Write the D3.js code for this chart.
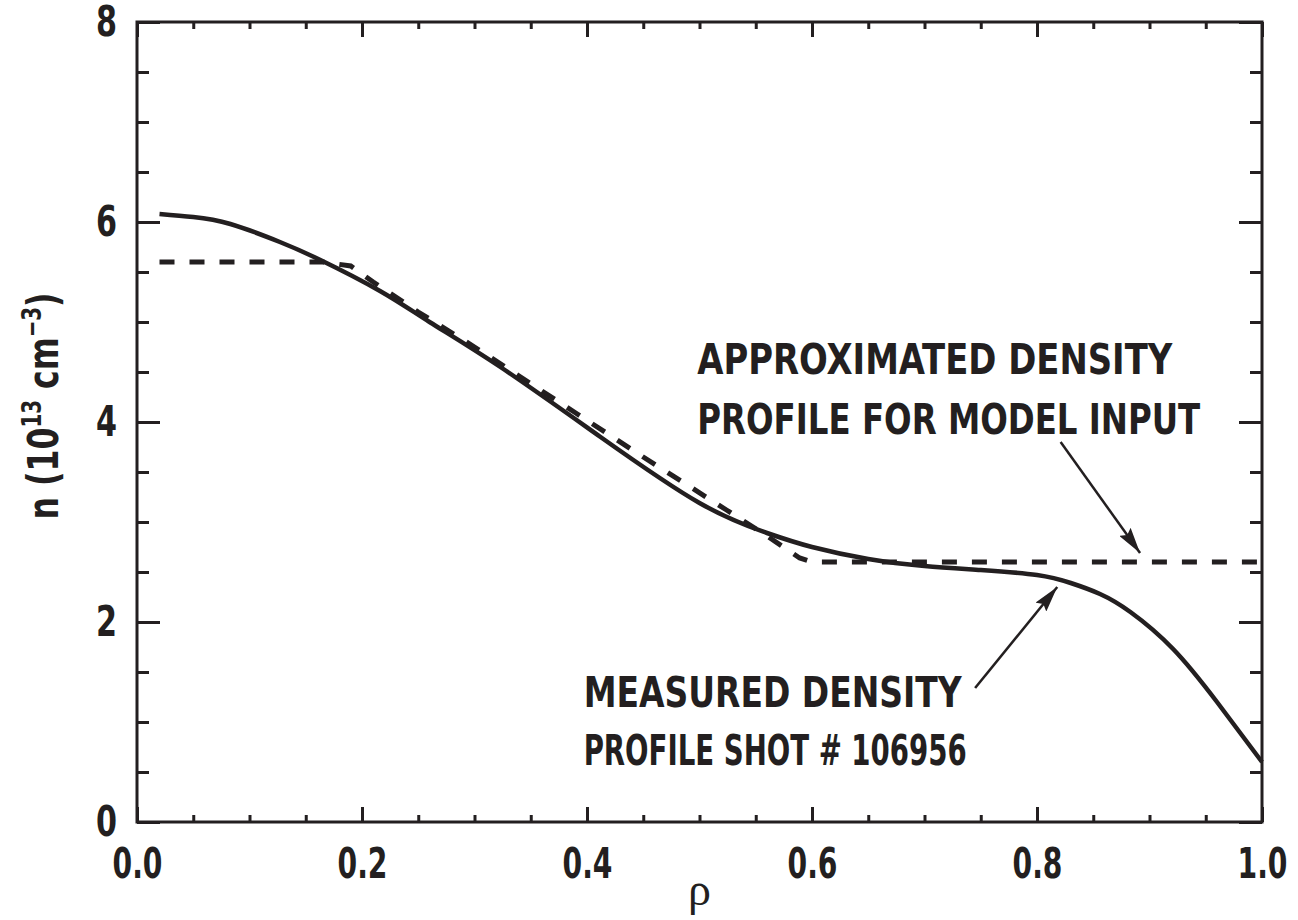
<!DOCTYPE html>
<meta charset="utf-8">
<head>
	<style type="text/css">
		body { margin: 0; background: #fff; }
		.lbl { font-family: "Liberation Sans Narrow", "DejaVu Sans Condensed", "Arial Narrow", sans-serif; font-weight: bold; fill: #231f20; }
		.tick line { stroke: #231f20; stroke-width: 3; }
	</style>
	<title>Density profile</title>
</head>

<script src="https://cdn.jsdelivr.net/npm/d3@7"></script>

<svg width="1298" height="920" id="svg1"></svg>

<script>
	// measured density profile (solid)
	const rhoMeasured = [0.02, 0.05, 0.083, 0.127, 0.163, 0.216, 0.26, 0.323, 0.412, 0.5, 0.56, 0.6, 0.65, 0.7, 0.75, 0.8, 0.83, 0.856, 0.883, 0.921, 0.96, 1.0];
	const nMeasured   = [6.08, 6.05, 5.98, 5.80, 5.62, 5.31, 5.0, 4.55, 3.85, 3.19, 2.89, 2.75, 2.63, 2.56, 2.52, 2.47, 2.39, 2.28, 2.10, 1.73, 1.20, 0.60];

	// approximated profile (dashed)
	const rhoApprox = [0.02, 0.165, 0.19, 0.21, 0.25, 0.3, 0.39, 0.45, 0.524, 0.56, 0.589, 0.6, 1.0];
	const nApprox   = [5.6, 5.6, 5.56, 5.40, 5.10, 4.75, 4.09, 3.65, 3.12, 2.86, 2.64, 2.6, 2.6];

	const xMajor = [0, 0.2, 0.4, 0.6, 0.8, 1.0];
	const yMajor = [0, 2, 4, 6, 8];
	const xMinor = d3.range(0, 1.0001, 0.05).filter(v => Math.abs(v * 5 - Math.round(v * 5)) > 1e-6);
	const yMinor = d3.range(0, 8.0001, 0.5).filter(v => v % 2 !== 0);

	const svg1 = d3.select('#svg1');
	const ink = '#231f20';

	const x = d3.scaleLinear().domain([0, 1]).range([137, 1262]);
	const y = d3.scaleLinear().domain([0, 8]).range([822, 22]);

	const fontSize = 43;

	// major + minor ticks on all four sides
	const addAxis = (axis, tf, labelWidth) => {
		const g = svg1.append('g').attr('transform', tf).call(axis);
		g.select('.domain').remove();
		g.selectAll('text')
			.attr('class', 'lbl')
			.style('font-size', fontSize + 'px')
			.attr('fill', ink);
		if (labelWidth) {
			g.selectAll('text')
				.attr('textLength', labelWidth)
				.attr('lengthAdjust', 'spacingAndGlyphs');
		}
		return g;
	};

	addAxis(d3.axisBottom(x).tickValues(xMajor).tickSize(-15).tickPadding(25).tickFormat(d3.format('.1f')), `translate(0,${y(0)})`, 50);
	addAxis(d3.axisBottom(x).tickValues(xMinor).tickSize(-7).tickFormat(''), `translate(0,${y(0)})`);
	addAxis(d3.axisTop(x).tickValues(xMajor).tickSize(-15).tickFormat(''), `translate(0,${y(8)})`);
	addAxis(d3.axisTop(x).tickValues(xMinor).tickSize(-7).tickFormat(''), `translate(0,${y(8)})`);
	addAxis(d3.axisLeft(y).tickValues(yMajor).tickSize(-23).tickPadding(20).tickFormat(d3.format('d')), `translate(${x(0)},0)`, 21);
	addAxis(d3.axisLeft(y).tickValues(yMinor).tickSize(-12).tickFormat(''), `translate(${x(0)},0)`);
	addAxis(d3.axisRight(y).tickValues(yMajor).tickSize(-23).tickFormat(''), `translate(${x(1)},0)`);
	addAxis(d3.axisRight(y).tickValues(yMinor).tickSize(-12).tickFormat(''), `translate(${x(1)},0)`);

	// frame
	svg1.append('rect')
		.attr('x', x(0)).attr('y', y(8))
		.attr('width', x(1) - x(0)).attr('height', y(0) - y(8))
		.attr('fill', 'none').attr('stroke', ink).attr('stroke-width', 3);

	const smooth = d3.line()
		.x(d => x(d[0]))
		.y(d => y(d[1]))
		.curve(d3.curveNatural);

	const straight = d3.line()
		.x(d => x(d[0]))
		.y(d => y(d[1]));

	svg1.append('path')
		.datum(d3.zip(rhoApprox, nApprox))
		.attr('d', straight)
		.attr('fill', 'none')
		.attr('stroke', ink)
		.attr('stroke-width', 5)
		.attr('stroke-dasharray', '15,15');

	svg1.append('path')
		.datum(d3.zip(rhoMeasured, nMeasured))
		.attr('d', smooth)
		.attr('fill', 'none')
		.attr('stroke', ink)
		.attr('stroke-width', 4.5);

	// arrows
	svg1.append('defs').append('marker')
		.attr('id', 'arrow')
		.attr('markerUnits', 'userSpaceOnUse')
		.attr('viewBox', '0 0 26 14')
		.attr('refX', 26).attr('refY', 7)
		.attr('markerWidth', 26).attr('markerHeight', 14)
		.attr('orient', 'auto')
		.append('path')
			.attr('d', 'M0,0 L26,7 L0,14 L4,7 Z')
			.attr('fill', ink);

	const arrows = [
		[[0.821, 3.80], [0.8916, 2.69]],
		[[0.745, 1.34], [0.818, 2.35]]
	];
	svg1.selectAll('.arrow')
		.data(arrows)
		.enter()
			.append('line')
				.attr('class', 'arrow')
				.attr('x1', d => x(d[0][0])).attr('y1', d => y(d[0][1]))
				.attr('x2', d => x(d[1][0])).attr('y2', d => y(d[1][1]))
				.attr('stroke', ink)
				.attr('stroke-width', 2.5)
				.attr('marker-end', 'url(#arrow)');

	// annotation text
	const notes = [
		{ text: 'APPROXIMATED DENSITY', rho: 0.498, n: 4.48, w: 475 },
		{ text: 'PROFILE FOR MODEL INPUT', rho: 0.498, n: 3.88, w: 503 },
		{ text: 'MEASURED DENSITY', rho: 0.397, n: 1.15, w: 378 },
		{ text: 'PROFILE SHOT # 106956', rho: 0.397, n: 0.57, w: 383 }
	];
	svg1.selectAll('.note')
		.data(notes)
		.enter()
			.append('text')
				.attr('class', 'lbl note')
				.style('font-size', fontSize + 'px')
				.attr('x', d => x(d.rho))
				.attr('y', d => y(d.n))
				.attr('textLength', d => d.w)
				.attr('lengthAdjust', 'spacingAndGlyphs')
				.text(d => d.text);

	// axis titles
	const yTitle = svg1.append('text')
		.attr('class', 'lbl')
		.style('font-size', fontSize + 'px')
		.attr('text-anchor', 'middle')
		.attr('transform', 'translate(58,406) rotate(-90)')
		.attr('textLength', 227)
		.attr('lengthAdjust', 'spacingAndGlyphs');
	yTitle.append('tspan').text('n (10');
	yTitle.append('tspan').text('13').style('font-size', '27px').attr('dy', -17);
	yTitle.append('tspan').text(' cm').attr('dy', 17);
	yTitle.append('tspan').text('\u22123').style('font-size', '27px').attr('dy', -17);
	yTitle.append('tspan').text(')').attr('dy', 17);

	svg1.append('text')
		.attr('x', (x(0) + x(1)) / 2)
		.attr('y', 905)
		.attr('text-anchor', 'middle')
		.style('font-family', '"Liberation Serif", "DejaVu Serif", serif')
		.style('font-size', '46px')
		.attr('fill', ink)
		.text('\u03c1');
</script>
